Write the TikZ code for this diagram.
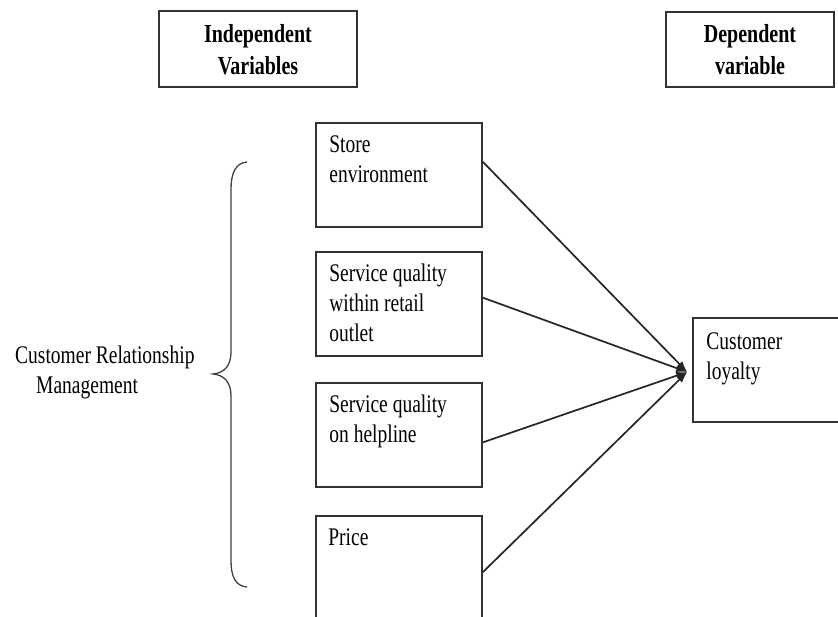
\documentclass[tikz,border=0pt]{standalone}
\usepackage{graphicx}
\usepackage{fontspec}
\setmainfont{Liberation Serif}
\usetikzlibrary{arrows.meta,calc}
\newcommand\stxt[1]{\scalebox{1}[1.3]{\begin{tabular}{@{}l@{}}#1\end{tabular}}}
\newcommand\ctxt[1]{\scalebox{1}[1.3]{\begin{tabular}{@{}c@{}}#1\end{tabular}}}
\begin{document}
\begin{tikzpicture}[x=1pt,y=-1pt,
  box/.style={draw=black!80,line width=1.6pt,inner sep=0pt,minimum width=166pt,minimum height=104pt},
  hbox/.style={draw=black!80,line width=1.6pt,inner sep=0pt},
  txt/.style={inner sep=0pt,anchor=north west,font=\fontsize{19.5}{23}\selectfont},
  htxt/.style={inner sep=0pt,font=\fontsize{20}{24.5}\selectfont\bfseries},
  conn/.style={draw=black!85,line width=1.7pt,-{Latex[length=11pt,width=8pt]}},
  brace/.style={draw=black!75,line width=1.3pt}]
\clip (0,0) rectangle (838,617);
\fill[white] (0,0) rectangle (838,617);
% headings
\node[hbox,minimum width=198pt,minimum height=76pt] (ind) at (258,49) {};
\node[htxt] at ($(ind.center)+(0,3)$) {\ctxt{Independent\\Variables}};
\node[hbox,minimum width=168pt,minimum height=75pt] (dep) at (750,49.5) {};
\node[htxt] at ($(dep.center)+(0,3)$) {\ctxt{Dependent\\variable}};
% independent boxes
\node[box] (s1) at (399,175) {};
\node[box] (s2) at (399,304) {};
\node[box] (s3) at (399,435) {};
\node[box] (s4) at (399,568) {};
\node[txt] at ($(s1.north west)+(14,9)$) {\stxt{Store\\environment}};
\node[txt] at ($(s2.north west)+(14,9)$) {\stxt{Service quality\\within retail\\outlet}};
\node[txt] at ($(s3.north west)+(14,9)$) {\stxt{Service quality\\on helpline}};
\node[txt] at ($(s4.north west)+(13,9)$) {\stxt{Price}};
% dependent box
\node[box,minimum width=150pt] (loy) at (768,370) {};
\node[txt] at ($(loy.north west)+(14,11)$) {\stxt{Customer\\loyalty}};
% label
\node[txt] (crm) at (15,342) {\stxt{Customer Relationship\\\hspace*{21pt}Management}};
% brace
\path[brace] (247,162) .. controls (236,163) and (231,172) .. (231,190) -- (231,352)
  .. controls (231,366) and (224,373) .. (213,374)
  .. controls (224,375) and (231,382) .. (231,396) -- (231,560)
  .. controls (231,578) and (236,586) .. (247,587);
% connectors
\coordinate (tip) at ($(loy.west)+(-5,2)$);
\draw[conn] ($(s1.north east)!0.375!(s1.south east)$) -- (tip);
\draw[conn] ($(s2.north east)!0.44!(s2.south east)$) -- (tip);
\draw[conn] ($(s3.north east)!0.57!(s3.south east)$) -- (tip);
\draw[conn] ($(s4.north east)!0.54!(s4.south east)$) -- (tip);
\end{tikzpicture}
\end{document}
